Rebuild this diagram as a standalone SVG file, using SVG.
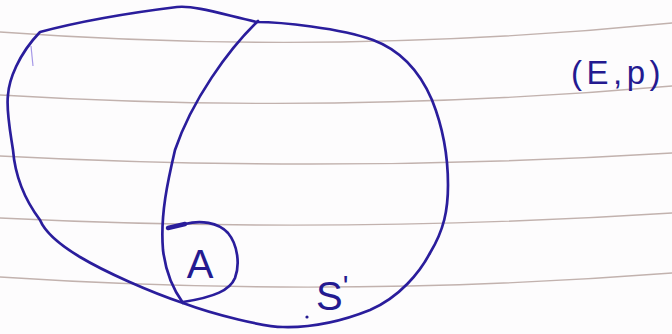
<svg xmlns="http://www.w3.org/2000/svg" width="672" height="334" viewBox="0 0 672 334">
<style>
.rule{fill:none;stroke:#c2b2ae;stroke-width:1.4;stroke-linecap:round}
.ink{fill:none;stroke:#2a1d9c;stroke-width:2.7;stroke-linecap:round;stroke-linejoin:round}
.hand{font-family:"Liberation Sans","DejaVu Sans",sans-serif;fill:#241a90}
</style>
<rect x="0" y="0" width="672" height="334" fill="#fdfcfd"/>
<g id="paper-lines">
<path class="rule" d="M0,32 Q336,56.5 672,23"/>
<path class="rule" d="M0,95 Q336,115.5 672,86"/>
<path class="rule" d="M0,156 Q336,173.5 672,153"/>
<path class="rule" d="M0,218 Q336,234.5 672,213"/>
<path class="rule" d="M0,277 Q336,299 672,273"/>
</g>
<g id="set-E">
<path class="ink" d="M40,32 C70,24 120,14 177,7 C195,5 225,15 257,22 C280,22 340,28 373,40 C400,50 420,72 432,100 C442,125 448,155 448,185 C448,210 444,230 430,253 C420,272 400,297 370,310 C350,318 320,328 283,327 C265,327 215,315 183,303 C150,292 105,272 80,257 C60,245 45,232 40,220 C25,200 15,175 13,150 C10,130 6,110 8,95 C9,80 18,55 40,32 Z"/>
<path d="M31,46 L33,66" stroke="#6a55d8" stroke-width="1.2" fill="none" opacity="0.6"/>
</g>
<g id="set-S-prime">
<path class="ink" d="M258,21 C228,50 192,100 175,150 C168,180 160,215 163,250 C166,275 175,292 183,303"/>
<text class="hand" x="316" y="310" font-size="40">S<tspan dx="0" dy="-14" font-size="30">'</tspan></text>
<circle cx="307" cy="317" r="1.6" fill="#241a90"/>
</g>
<g id="set-A">
<path d="M168,228 L185,224" stroke="#2a1d9c" stroke-width="4.5" stroke-linecap="round" fill="none"/>
<path class="ink" d="M185,224 C200,220 218,222 228,233 C238,245 240,265 235,278 C230,290 215,297 183,302"/>
<text class="hand" x="200" y="278" font-size="40" text-anchor="middle">A</text>
</g>
<g id="label-space">
<text class="hand" x="571" y="84" font-size="33" letter-spacing="4.5">(E,p)</text>
</g>
</svg>
